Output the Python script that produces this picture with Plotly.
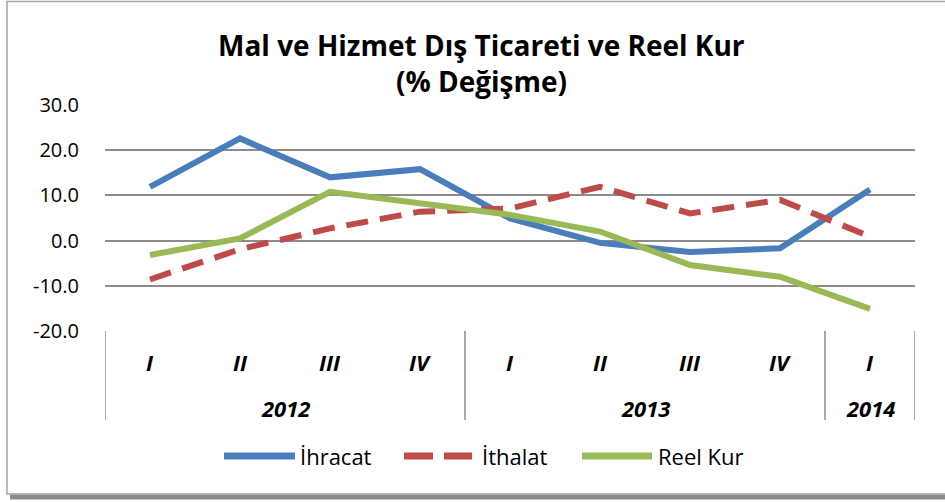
import plotly.graph_objects as go

# ---- data ----
quarters = ["I", "II", "III", "IV", "I", "II", "III", "IV", "I"]
years = ["2012", "2013", "2014"]
quarters_per_year = [4, 4, 1]
ihracat = [11.9, 22.6, 14.0, 15.8, 4.9, -0.5, -2.5, -1.7, 11.3]
ithalat = [-8.6, -1.9, 2.7, 6.4, 7.1, 11.9, 6.0, 9.0, 0.9]
reel_kur = [-3.2, 0.5, 10.8, 8.2, 5.7, 2.0, -5.4, -8.0, -15.1]
series_names = ["İhracat", "İthalat", "Reel Kur"]
y_ticks = [30, 20, 10, 0, -10, -20]
title_lines = ["Mal ve Hizmet Dış Ticareti ve Reel Kur", "(% Değişme)"]

# ---- style ----
W, H = 945, 502
L, R, T, B = 105, 915, 105, 331
colors = ["#4A7EBB", "#BE4B48", "#98B954"]
dashes = ["solid", "22px,12px", "solid"]
FONT = "Open Sans"
grid = "#8C8C8C"

def px_x(p):
    return (p - L) / (R - L)

def px_y(p):
    return (B - p) / (B - T)

x = list(range(len(quarters)))
fig = go.Figure()
for name, vals, c, d in zip(series_names, [ihracat, ithalat, reel_kur], colors, dashes):
    fig.add_trace(go.Scatter(x=x, y=vals, mode="lines", name=name,
                             line=dict(color=c, width=6, dash=d),
                             showlegend=False, hoverinfo="skip"))

shapes = []
annotations = []

# frame + shadow
shapes.append(dict(type="line", xref="paper", yref="paper",
                   x0=px_x(10), x1=px_x(960), y0=px_y(497), y1=px_y(497),
                   line=dict(color="#8a8a8a", width=5)))
shapes.append(dict(type="rect", xref="paper", yref="paper",
                   x0=px_x(7), x1=px_x(960), y0=px_y(494), y1=px_y(1.5),
                   line=dict(color="#a6a6a6", width=1.5)))

# category dividers
bounds = [-0.5]
for n in quarters_per_year:
    bounds.append(bounds[-1] + n)
for b in bounds:
    shapes.append(dict(type="line", xref="x", yref="paper", x0=b, x1=b,
                       y0=0, y1=px_y(420), line=dict(color=grid, width=1.5)))

cat_font = dict(family=FONT, size=22, color="black", weight="bold", style="italic")
# quarter labels
for xi, q in zip(x, quarters):
    annotations.append(dict(x=xi, y=px_y(362), xref="x", yref="paper", text=q,
                            showarrow=False, yanchor="middle", font=cat_font))
# year labels
for i, yr in enumerate(years):
    annotations.append(dict(x=(bounds[i] + bounds[i + 1]) / 2, y=px_y(408),
                            xref="x", yref="paper", text=yr, showarrow=False,
                            yanchor="middle", font=cat_font))

# title
for line, py in zip(title_lines, [45, 81]):
    annotations.append(dict(x=px_x(481), y=px_y(py), xref="paper", yref="paper",
                            text=line, showarrow=False, yanchor="middle",
                            font=dict(family=FONT, size=28, color="black",
                                      weight="bold")))

# legend (manual)
leg_y = px_y(456)
leg_items = [(224, 295, 298), (404, 472, 480), (582, 652, 656)]
for (a, b, tx), name, c, d in zip(leg_items, series_names, colors, ["solid", "29px,11px", "solid"]):
    shapes.append(dict(type="line", xref="paper", yref="paper",
                       x0=px_x(a), x1=px_x(b), y0=leg_y, y1=leg_y,
                       line=dict(color=c, width=7, dash=d)))
    annotations.append(dict(x=px_x(tx), y=leg_y, xref="paper", yref="paper",
                            text=name, showarrow=False, xanchor="left",
                            yanchor="middle",
                            font=dict(family=FONT, size=22, color="black")))

fig.update_layout(
    width=W, height=H,
    margin=dict(l=L, r=W - R, t=T, b=H - B, pad=0),
    paper_bgcolor="white", plot_bgcolor="white",
    showlegend=False,
    shapes=shapes, annotations=annotations,
    xaxis=dict(range=[-0.5, len(quarters) - 0.5], showgrid=False,
               showticklabels=False, zeroline=False, showline=False,
               fixedrange=True),
    yaxis=dict(range=[-20, 30], tickvals=y_ticks,
               ticktext=[f"{v:.1f}" for v in y_ticks],
               showgrid=True, gridcolor=grid, gridwidth=1.5,
               zeroline=False, showline=False, ticks="",
               ticklabelstandoff=25,
               tickfont=dict(family=FONT, size=20, color="black"),
               fixedrange=True),
)
fig.write_html("out.html", config={"displayModeBar": False},
               post_script="document.body.style.margin='0';document.body.style.overflow='hidden';")
